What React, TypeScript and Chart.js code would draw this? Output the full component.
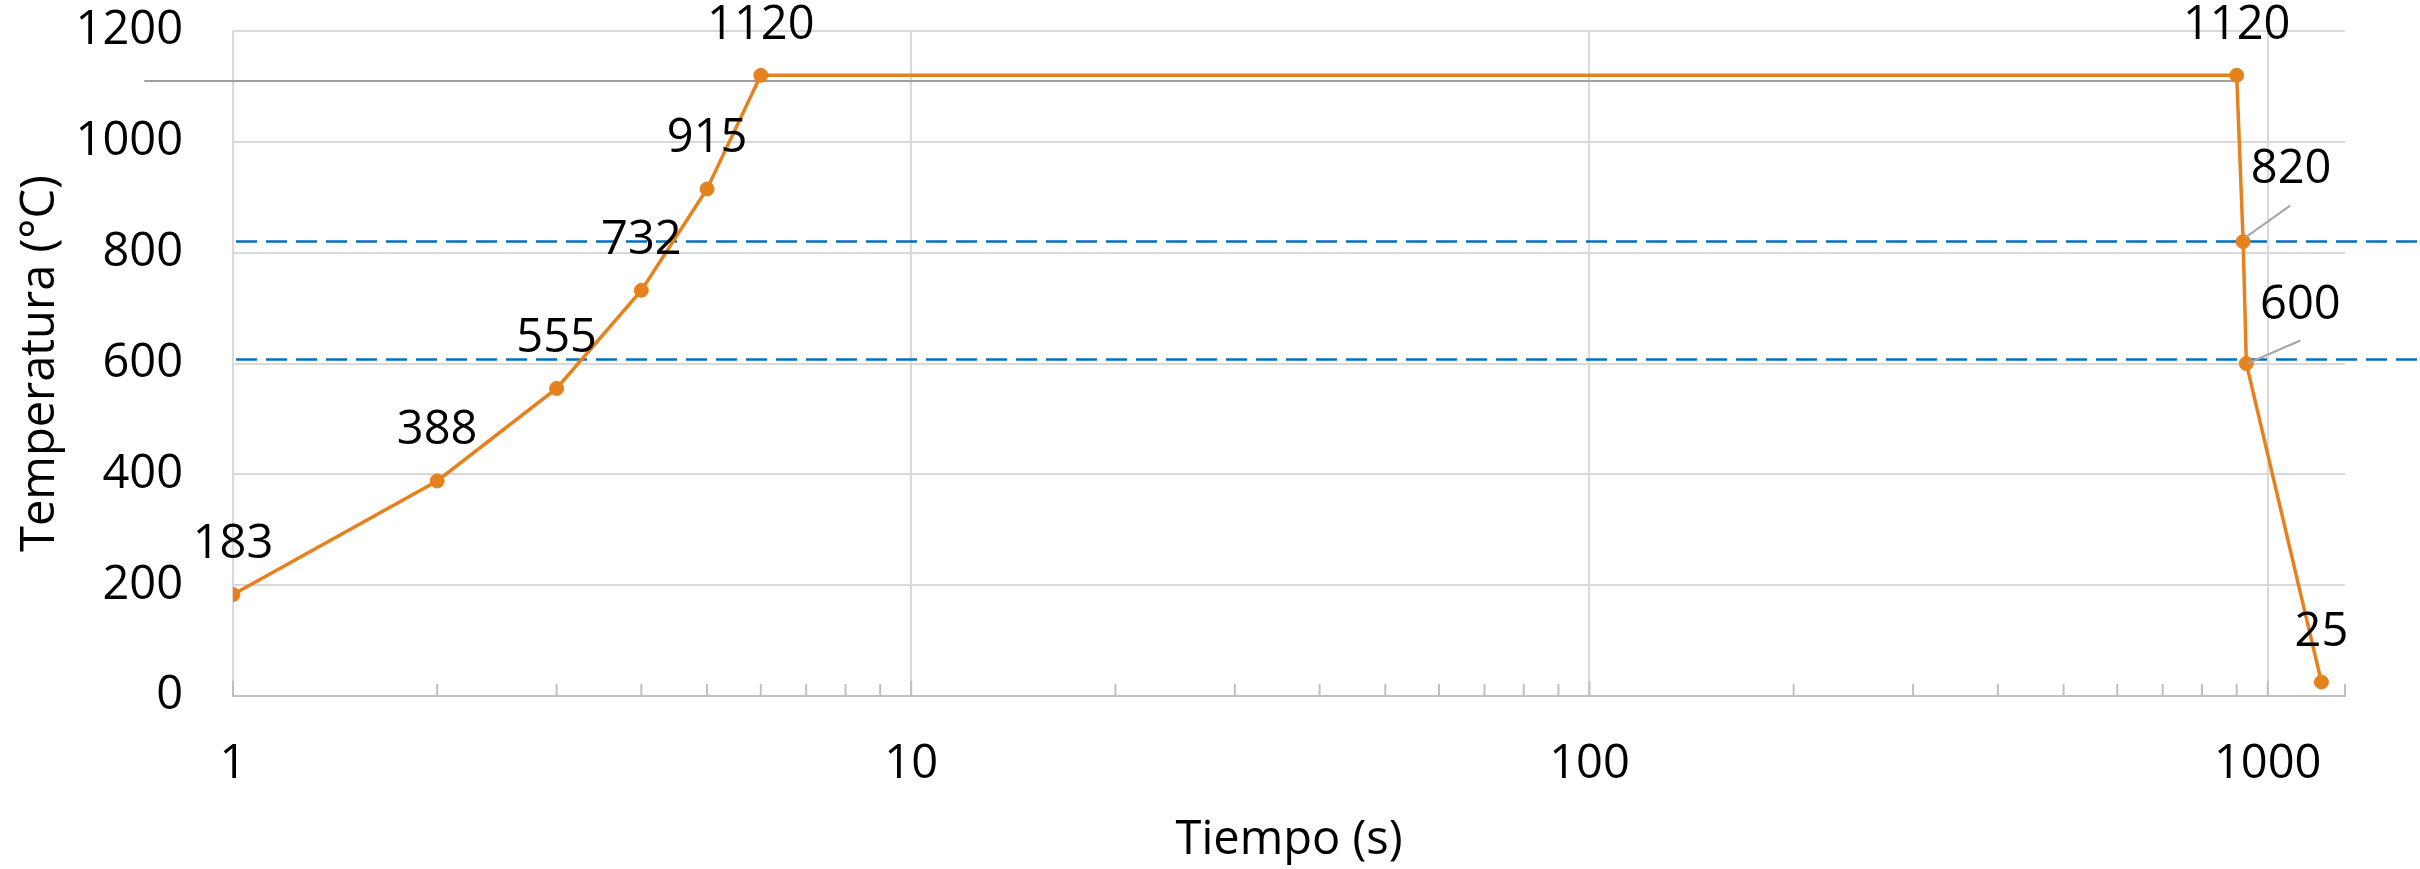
import React, { useEffect, useRef } from 'react';
import { Chart, registerables } from 'chart.js';

Chart.register(...registerables);

// ---- data ----
const timeSeconds = [1, 2, 3, 4, 5, 6, 900, 920, 930, 1200];
const temperatures = [183, 388, 555, 732, 915, 1120, 1120, 820, 600, 25];
const xMajorTicks = [1, 10, 100, 1000];
const xMinorTicks = [2, 3, 4, 5, 6, 7, 8, 9, 20, 30, 40, 50, 60, 70, 80, 90, 200, 300, 400, 500, 600, 700, 800, 900];
const xAxisMin = 1;
const xAxisMax = 1300;
const yAxisMin = 0;
const yAxisMax = 1200;
const yStep = 200;
const criticalTemps = [820, 607];
const holdTemp = 1110;
const holdLineStart = 0.74;
const holdLineEnd = 900;
const xTitle = 'Tiempo (s)';
const yTitle = 'Temperatura (°C)';

// ---- style ----
const FONT = "'Open Sans', sans-serif";
const FONT_SIZE = 47;
const ORANGE = '#E6821E';
const GRID = '#d9d9d9';
const AXIS = '#bfbfbf';
const LABEL_RAISE = 50;
const callouts: Record<number, { dx: number; dy: number; from: [number, number]; to: [number, number] }> = {
  7: { dx: 48, dy: -72, from: [47, -36], to: [2, -4] },
  8: { dx: 54, dy: -58, from: [54, -23], to: [1, 0] },
};

const overlayPlugin = {
  id: 'overlay',
  beforeDatasetsDraw(chart: any) {
    const { ctx, scales } = chart;
    const x = scales.x;
    const y = scales.y;
    ctx.save();
    // minor tick marks (inside)
    ctx.strokeStyle = AXIS;
    ctx.lineWidth = 2;
    x.ticks.forEach((t: any) => {
      const px = x.getPixelForValue(t.value);
      const len = xMajorTicks.includes(t.value) ? 15 : 12;
      ctx.beginPath();
      ctx.moveTo(px, y.bottom);
      ctx.lineTo(px, y.bottom - len);
      ctx.stroke();
    });
    // gray hold line
    ctx.strokeStyle = '#a0a0a0';
    ctx.lineWidth = 2;
    const hy = y.getPixelForValue(holdTemp);
    ctx.beginPath();
    ctx.moveTo(x.getPixelForValue(holdLineStart), hy);
    ctx.lineTo(x.getPixelForValue(holdLineEnd), hy);
    ctx.stroke();
    // dashed critical temperature lines
    ctx.strokeStyle = '#0070C0';
    ctx.lineWidth = 2.5;
    ctx.setLineDash([21, 9]);
    criticalTemps.forEach((t) => {
      const py = y.getPixelForValue(t);
      ctx.beginPath();
      ctx.moveTo(x.left + 3, py);
      ctx.lineTo(chart.width, py);
      ctx.stroke();
    });
    ctx.restore();
  },
  afterDatasetsDraw(chart: any) {
    const { ctx } = chart;
    const meta = chart.getDatasetMeta(0);
    ctx.save();
    ctx.font = `${FONT_SIZE}px ${FONT}`;
    ctx.fillStyle = '#000';
    ctx.textAlign = 'center';
    ctx.textBaseline = 'middle';
    meta.data.forEach((pt: any, i: number) => {
      const label = String(temperatures[i]);
      const c = callouts[i];
      if (c) {
        ctx.strokeStyle = '#a6a6a6';
        ctx.lineWidth = 2;
        ctx.beginPath();
        ctx.moveTo(pt.x + c.from[0], pt.y + c.from[1]);
        ctx.lineTo(pt.x + c.to[0], pt.y + c.to[1]);
        ctx.stroke();
        ctx.fillText(label, pt.x + c.dx, pt.y + c.dy);
      } else {
        ctx.fillText(label, pt.x, pt.y - LABEL_RAISE);
      }
    });
    ctx.restore();
  },
};

export default function App() {
  const canvasRef = useRef<HTMLCanvasElement | null>(null);

  useEffect(() => {
    if (!canvasRef.current) return;
    Chart.defaults.font.family = FONT;
    Chart.defaults.font.size = FONT_SIZE;
    Chart.defaults.color = '#000';
    const chart = new Chart(canvasRef.current, {
      type: 'line',
      data: {
        datasets: [
          {
            data: timeSeconds.map((t, i) => ({ x: t, y: temperatures[i] })),
            borderColor: ORANGE,
            backgroundColor: ORANGE,
            borderWidth: 3.5,
            pointRadius: 7,
            pointBorderWidth: 1,
            pointBorderColor: ORANGE,
            pointBackgroundColor: ORANGE,
            tension: 0,
            fill: false,
          },
        ],
      },
      options: {
        responsive: false,
        animation: false,
        devicePixelRatio: 1,
        layout: { padding: { left: 0, top: 31, right: 75, bottom: 0 } },
        plugins: { legend: { display: false }, tooltip: { enabled: false } },
        scales: {
          x: {
            type: 'logarithmic',
            position: 'bottom',
            min: xAxisMin,
            max: xAxisMax,
            afterBuildTicks: (scale: any) => {
              const vals = [...xMajorTicks, ...xMinorTicks, xAxisMax].sort((a, b) => a - b);
              scale.ticks = vals.map((v) => ({ value: v, major: xMajorTicks.includes(v) }));
            },
            afterFit: (scale: any) => {
              scale.height = 173;
              scale.paddingLeft = 0;
              scale.paddingRight = 0;
            },
            ticks: {
              autoSkip: false,
              maxRotation: 0,
              minRotation: 0,
              padding: 40,
              color: '#000',
              font: { size: FONT_SIZE, family: FONT },
              callback: (v: any) => (xMajorTicks.includes(Number(v)) ? String(v) : ''),
            },
            grid: {
              drawTicks: false,
              lineWidth: 2,
              color: (ctx: any) => (ctx.tick && xMajorTicks.includes(ctx.tick.value) ? GRID : 'rgba(0,0,0,0)'),
            },
            border: { display: true, color: AXIS, width: 2 },
            title: {
              display: true,
              text: xTitle,
              color: '#000',
              font: { size: FONT_SIZE, family: FONT },
              padding: { top: 0, bottom: 0 },
            },
          },
          y: {
            type: 'linear',
            min: yAxisMin,
            max: yAxisMax,
            afterFit: (scale: any) => {
              scale.width = 233;
              scale.paddingTop = 0;
              scale.paddingBottom = 0;
            },
            ticks: {
              stepSize: yStep,
              padding: 50,
              color: '#000',
              font: { size: FONT_SIZE, family: FONT },
              callback: (v: any) => String(v),
            },
            grid: { drawTicks: false, lineWidth: 2, color: GRID },
            border: { display: false },
            title: {
              display: true,
              text: yTitle,
              color: '#000',
              font: { size: FONT_SIZE, family: FONT },
              padding: { top: 12, bottom: 0 },
            },
          },
        },
      },
      plugins: [overlayPlugin],
    } as any);
    return () => chart.destroy();
  }, []);

  return (
    <div style={{ position: 'fixed', left: 0, top: 0, width: 2420, height: 869, background: '#fff' }}>
      <canvas ref={canvasRef} width={2420} height={869} style={{ display: 'block' }} />
    </div>
  );
}
